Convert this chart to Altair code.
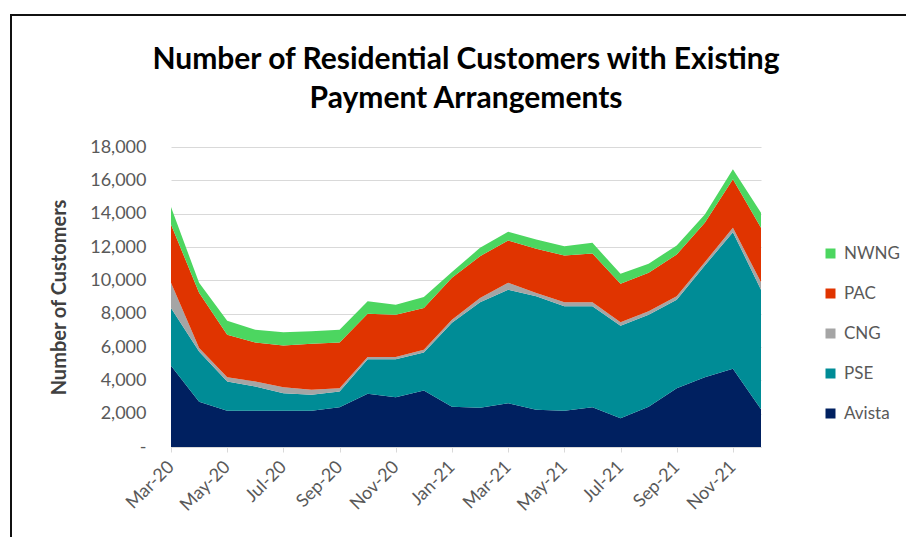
import altair as alt
import pandas as pd

months = ["Mar-20", "Apr-20", "May-20", "Jun-20", "Jul-20", "Aug-20", "Sep-20", "Oct-20",
          "Nov-20", "Dec-20", "Jan-21", "Feb-21", "Mar-21", "Apr-21", "May-21", "Jun-21",
          "Jul-21", "Aug-21", "Sep-21", "Oct-21", "Nov-21", "Dec-21"]

avista = [4870, 2720, 2180, 2180, 2180, 2180, 2390, 3190, 2990, 3390, 2420, 2360,
          2630, 2230, 2170, 2390, 1720, 2420, 3530, 4190, 4690, 2270]
pse = [3470, 3010, 1750, 1450, 1050, 950, 940, 2080, 2280, 2280, 5030, 6320,
       6810, 6810, 6270, 6050, 5560, 5520, 5310, 6700, 8200, 7170]
cng = [1510, 210, 260, 300, 360, 300, 200, 130, 130, 160, 190, 260,
       410, 200, 240, 240, 200, 200, 200, 200, 260, 440]
pac = [3500, 3310, 2550, 2340, 2500, 2770, 2740, 2600, 2540, 2510, 2510, 2510,
       2540, 2650, 2810, 2930, 2320, 2310, 2510, 2360, 2910, 3270]
nwng = [1050, 600, 840, 770, 790, 740, 770, 740, 600, 660, 350, 500,
        520, 560, 560, 640, 590, 550, 540, 500, 600, 910]

series_names = ["Avista", "PSE", "CNG", "PAC", "NWNG"]
series_values = [avista, pse, cng, pac, nwng]
legend_order = ["NWNG", "PAC", "CNG", "PSE", "Avista"]
legend_colors = ["#4CD660", "#E03400", "#A5A5A5", "#008C96", "#002060"]

rows = []
for idx, (name, vals) in enumerate(zip(series_names, series_values)):
    for m, v in zip(months, vals):
        rows.append({"month": m, "series": name, "value": v, "stack_idx": idx})
df = pd.DataFrame(rows)

FONT = "Lato"

area = alt.Chart(df).mark_area().encode(
    x=alt.X("month:N", sort=months,
            scale=alt.Scale(type="point", padding=0),
            axis=alt.Axis(values=months[::2], title=None, labelAngle=-45,
                          labelAlign="right", labelBaseline="middle",
                          labelPadding=12, labelFontSize=18, labelColor="#595959",
                          labelFont=FONT, domainColor="#d9d9d9", tickColor="#d9d9d9",
                          tickSize=5, grid=False)),
    y=alt.Y("value:Q", stack="zero",
            scale=alt.Scale(domain=[0, 18000], nice=False),
            axis=alt.Axis(values=list(range(0, 18001, 2000)),
                          labelExpr="datum.value == 0 ? '-\u00a0\u00a0' : format(datum.value, ',')",
                          title="Number of Customers", titleFont=FONT, titleFontSize=20,
                          titleFontWeight="bold", titleColor="#404040", titlePadding=20,
                          labelFontSize=18, labelColor="#595959", labelFont=FONT,
                          labelPadding=25, ticks=False, tickSize=0, domain=False,
                          grid=True, gridColor="#d9d9d9")),
    color=alt.Color("series:N",
                    scale=alt.Scale(domain=legend_order, range=legend_colors),
                    legend=alt.Legend(title=None, orient="none", legendX=651, legendY=98,
                                      symbolType="square", symbolSize=100,
                                      symbolStrokeWidth=0, labelFontSize=17,
                                      labelColor="#595959", labelFont=FONT,
                                      rowPadding=22, labelOffset=5, padding=0)),
    order=alt.Order("stack_idx:Q", sort="ascending"),
)

border_left = alt.Chart(df).mark_rule(color="#111111", strokeWidth=2).encode(
    x=alt.value(-160), y=alt.value(-132), y2=alt.value(420))
border_top = alt.Chart(df).mark_rule(color="#111111", strokeWidth=2).encode(
    x=alt.value(-161), x2=alt.value(760), y=alt.value(-132))

chart = alt.layer(area, border_left, border_top).properties(
    width=590, height=300,
    autosize=alt.AutoSizeParams(type="none"),
    padding={"left": 163, "top": 139, "right": 145, "bottom": 90},
    title=alt.TitleParams(
        text=["Number of Residential Customers with Existing", "Payment Arrangements"],
        font=FONT, fontSize=30, fontWeight="bold", color="#000000",
        anchor="middle", lineHeight=39, offset=0, baseline="alphabetic", dy=124),
).configure_view(stroke=None)

chart.save("out.html", embed_options={"renderer": "svg", "actions": False})
